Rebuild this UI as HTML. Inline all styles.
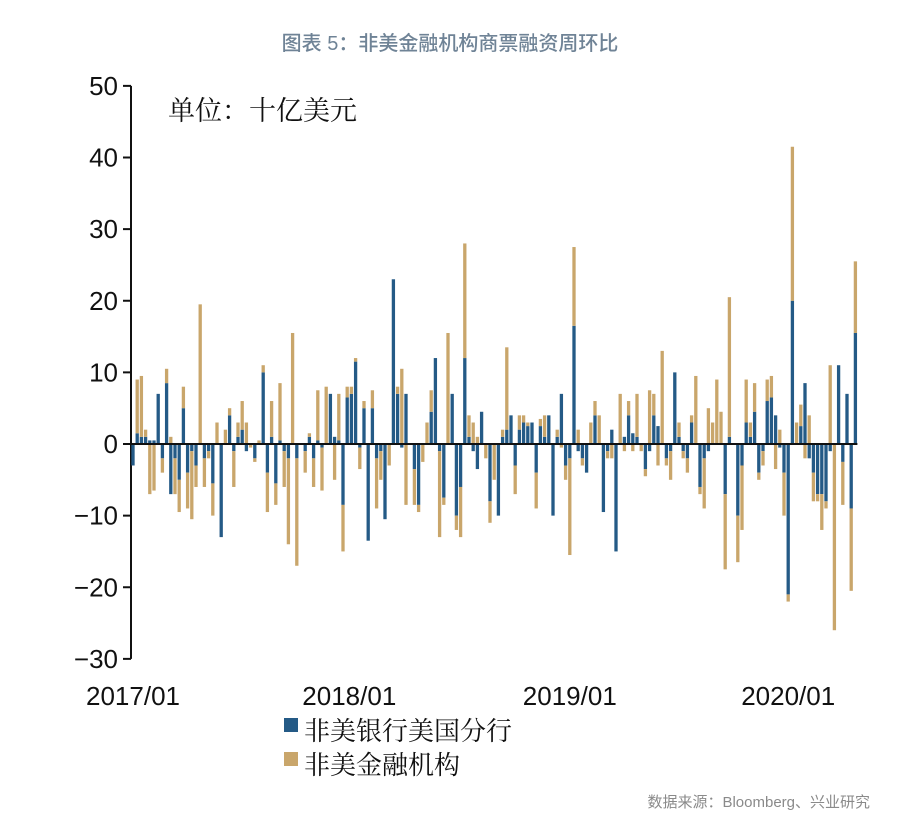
<!DOCTYPE html>
<html><head><meta charset="utf-8"><style>
body{margin:0;background:#fff;}
svg text{font-family:"Liberation Sans","Noto Sans CJK SC",sans-serif;}
</style></head><body>
<svg id="chart" width="900" height="822" viewBox="0 0 900 822" xmlns="http://www.w3.org/2000/svg">
<text x="450" y="50" text-anchor="middle" font-size="20" fill="#6f8396" font-weight="500">图表 5：非美金融机构商票融资周环比</text>
<text x="168" y="120" font-size="27" fill="#111" style="font-family:'Noto Serif CJK SC','Noto Sans CJK SC',serif">单位：十亿美元</text>
<g id="yaxis"></g>
<g id="bars"></g>
<g id="xaxis"></g>
<g>
<rect x="284" y="718" width="14" height="14" fill="#245a86"/>
<text x="304" y="740" font-size="26" fill="#111" style="font-family:'Noto Serif CJK SC','Noto Sans CJK SC',serif">非美银行美国分行</text>
<rect x="284" y="752" width="14" height="14" fill="#c9a66b"/>
<text x="304" y="774" font-size="26" fill="#111" style="font-family:'Noto Serif CJK SC','Noto Sans CJK SC',serif">非美金融机构</text>
</g>
<text x="870" y="807" text-anchor="end" font-size="15" fill="#8a8a8a">数据来源：Bloomberg、兴业研究</text>
</svg>
<script>
const yTicks=[50,40,30,20,10,0,-10,-20,-30];
const xLabels=["2017/01","2018/01","2019/01","2020/01"];
const xLabelIdx=[0,51.5,104,156];
const bank=[-3,1.5,1,1,0.5,0.5,7,-2,8.5,-7,
-2,-5,5,-4,-1,-3,0,-2,-1,-5.5,
0,-13,0,4,-1,1,2,-1,0,-2,
0,10,-4,1,-5.5,0.5,-1,-2,0,-2,
0,-1,1,-2,0.5,-0.5,0,7,1,0.5,
-8.5,6.5,7,11.5,-0.5,5,-13.5,5,-2,-1,
-10.5,0,23,7,-0.5,7,0,-3.5,-8.5,0,
0,4.5,12,-1,-7.5,0,7,-10,-6,12,
1,-1,-3.5,4.5,0,-8,0,-10,1,2,
4,-3,2,3,2.5,3,-4,2.5,1,4,
-10,1,7,-3,-2,16.5,-1,-2,-4,0,
4,0,-9.5,-1,2,-15,0,1,4,1.5,
1,0,-3.5,-1,4,2.5,0,-2,-1,10,
1,-1,-2,3,0,-6,-2,-1,0,0,
0,-7,1,0,-10,-3,3,1,4.5,-4,
-1,6,6.5,4,-0.5,-4,-21,20,0,2.5,
8.5,-2,-4,-7,-7,-8,-1,0,11,-2.5,
7,-9,15.5];
const nonUS=[0,7.5,8.5,1,-7,-6.5,0,-2,2,1,
-5,-4.5,3,-5,-9.5,-3,19.5,-4,-1,-4.5,
3,0,2,1,-5,2,4,3,-0.5,-0.5,
0.5,1,-5.5,5,-3,8,-5,-12,15.5,-15,
0,-3,0.5,-4,7,-6,8,0,-5,6.5,
-6.5,1.5,1,0.5,-3,1,0,2.5,-7,-4,
0,-3,0,1,10.5,-8.5,0,-5,-1,-2.5,
3,3,0,-12,-1,15.5,0,-2,-7,16,
3,3,1,0,-2,-3,-5,0,1,11.5,
0,-4,2,1,0.5,0,-5,1,3,0,
0,1,-0.5,-2,-13.5,11,2,-1,0,3,
2,4,0,-1,-2,0,7,-1,2,-1,
6,-1,-1,7.5,3,-3,13,-1,-4,0,
2,-1,-2,1,9.5,-1,-7,5,3,9,
4.5,-10.5,19.5,0,-6.5,-9,6,2,4,-1,
-2,3,3,-3.5,2,-6,-1,21.5,3,3,
-2,4,-4,-1,-5,-1,11,-26,0,-6,
0,-11.5,10];
const NS="http://www.w3.org/2000/svg";
const Y0=444, PPU=(659-86)/80, X0=133, STEP=4.2, BW=3.3;
function y(v){return Y0-v*PPU;}
function x(i){return X0+i*STEP;}
function mk(tag,attrs,parent){const e=document.createElementNS(NS,tag);for(const k in attrs)e.setAttribute(k,attrs[k]);parent.appendChild(e);return e;}
const ya=document.getElementById('yaxis'), bg=document.getElementById('bars'), xa=document.getElementById('xaxis');
const axl=mk('line',{x1:131,y1:y(50),x2:131,y2:y(-30),stroke:'#111','stroke-width':2},ya);


yTicks.forEach(t=>{
 const tk=mk('line',{x1:123,x2:131,y1:y(t),y2:y(t),stroke:'#111','stroke-width':2},ya);
 
 
 const tx=mk('text',{x:118,y:y(t)+9,'text-anchor':'end','font-size':26,fill:'#111'},ya);
 tx.textContent=(t<0?'\u2212'+(-t):t);
 
 
});
function bar(i,v0,v1,col,name){
 const r=mk('rect',{x:x(i)-BW/2,y:Math.min(y(v0),y(v1)),width:BW,height:Math.abs(y(v1)-y(v0)),fill:col},bg);
 
 
}
bank.forEach((b,i)=>{
 const f=nonUS[i];
 bar(i,0,b,'#245a86','bar-bank');
 if(f!==0){ if(b*f>0) bar(i,b,b+f,'#c9a66b','bar-nonus'); else bar(i,0,f,'#c9a66b','bar-nonus'); }
});
const zl=mk('line',{x1:131,x2:x(bank.length-1)+2,y1:Y0,y2:Y0,stroke:'#111','stroke-width':2},xa);


xLabels.forEach((l,k)=>{
 const t=mk('text',{x:x(xLabelIdx[k]),y:705,'text-anchor':'middle','font-size':26,fill:'#111'},xa);
 t.textContent=l;
 
 
});
</script>
</body></html>
